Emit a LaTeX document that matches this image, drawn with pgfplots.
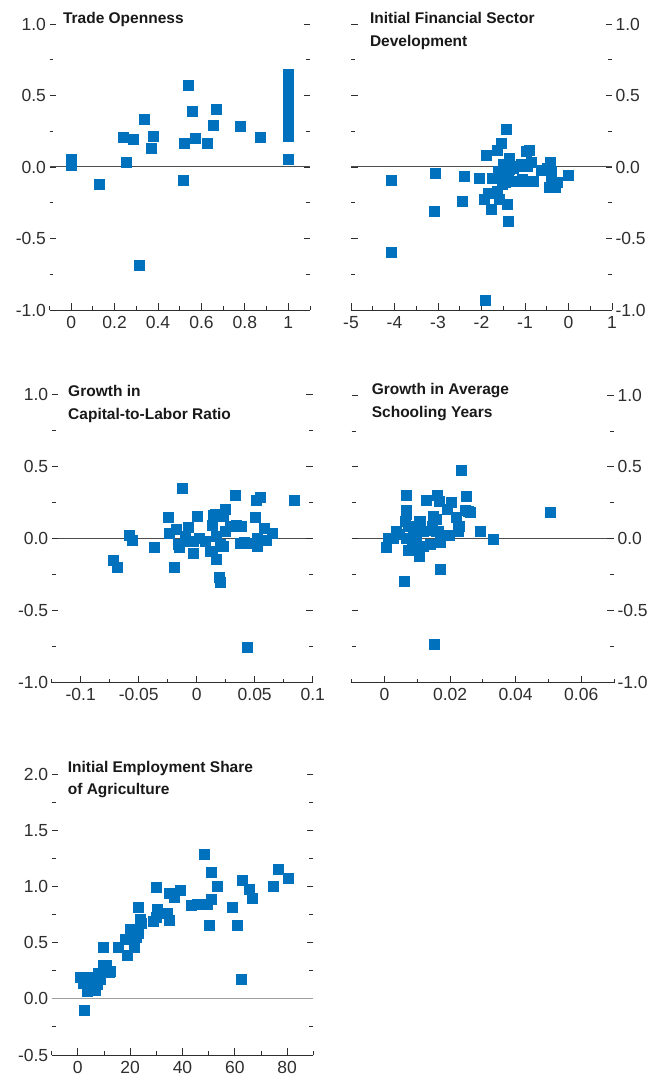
\documentclass[border=0pt]{standalone}
\usepackage{fontspec}
\setmainfont{Liberation Sans}
\usepackage{pgfplots}
\pgfplotsset{compat=1.18}

\definecolor{dotblue}{HTML}{0071BC}
\definecolor{inkgray}{HTML}{2E2E2E}

\pgfplotsset{
  panel/.style={
    scale only axis, anchor=south west, clip=false,
    axis x line=bottom, axis y line=box,
    separate axis lines,
    x axis line style={-, draw=inkgray, line width=0.9pt},
    y axis line style={draw=none},
    tick align=inside,
    scaled x ticks=false, scaled y ticks=false,
    major tick length=6.5pt, minor tick length=3.8pt,
    every tick/.style={draw=inkgray, line width=0.9pt},
    minor tick style={draw=inkgray, line width=0.9pt},
    tick label style={font=\fontsize{17.5}{20}\selectfont, text=inkgray},
    xticklabel style={yshift=-2.5pt},
    ytick pos=both,
    ytick={-1,-0.5,0,0.5,1},
    yticklabels={-1.0,-0.5,0.0,0.5,1.0},
    minor ytick={-0.75,-0.25,0.25,0.75},
    ymin=-1, ymax=1,
  },
  dots/.style={only marks, color=dotblue, mark=square*, mark size=5pt,
    mark options={solid, draw=dotblue, fill=dotblue, line width=0pt}},
}
\tikzset{ttl/.style={anchor=base west, font=\fontsize{15.5}{18}\selectfont\bfseries, text=black!90}}

\begin{document}
\begin{tikzpicture}
\useasboundingbox (0,0) rectangle (651pt,1079pt);

% Trade openness
\begin{axis}[panel, at={(49.5pt,769pt)}, width=260.5pt, height=286pt,
  xmin=-0.1, xmax=1.1,
  xtick={0,0.2,0.4,0.6,0.8,1}, xticklabels={0,0.2,0.4,0.6,0.8,1},
  minor xtick={-0.1,0.1,0.3,0.5,0.7,0.9,1.1},
  yticklabel pos=left]
\addplot[dots] coordinates {
(0,0.05)(0,0.01)(0.13,-0.12)(0.242,0.207)(0.285,0.19)(0.254,0.03)(0.337,0.33)
(0.368,0.128)(0.377,0.213)(0.314,-0.687)(0.52,0.167)(0.515,-0.096)(0.538,0.567)
(0.561,0.388)(0.572,0.202)(0.626,0.163)(0.655,0.29)(0.669,0.40)(0.782,0.283)
(0.87,0.207)(1,0.05)
(1,0.21)(1,0.25)(1,0.29)(1,0.33)(1,0.37)(1,0.41)(1,0.45)(1,0.49)(1,0.53)
(1,0.57)(1,0.61)(1,0.645)};
\addplot[inkgray, line width=1pt, opacity=0.85] coordinates {(-0.1,0)(1.1,0)};
\node[ttl] at ([xshift=10pt]rel axis cs:0,1) {Trade Openness};
\end{axis}

% Initial financial sector development
\begin{axis}[panel, at={(351pt,769pt)}, width=261pt, height=286pt,
  xmin=-5, xmax=1,
  xtick={-5,-4,-3,-2,-1,0,1}, xticklabels={-5,-4,-3,-2,-1,0,1},
  minor xtick={-4.5,-3.5,-2.5,-1.5,-0.5,0.5},
  yticklabel pos=right]
\addplot[dots] coordinates {
(-4.06,-0.093)(-4.08,-0.6)(-3.05,-0.047)(-3.07,-0.314)(-2.39,-0.07)(-2.43,-0.244)
(-2.05,-0.077)(-1.9,-0.935)(-1.89,0.077)(-1.43,0.263)(-1.55,0.163)(-1.64,0.112)
(-0.97,0.105)(-0.9,0.112)(-1.36,0.058)(-1.49,0.02)(-1.07,0.02)(-0.84,0.03)
(-0.42,0.03)(-0.94,0.0)(-1.26,-0.01)(-0.63,-0.023)(-0.38,-0.035)(-0.49,-0.01)
(-1.61,-0.035)(-1.38,-0.047)(-1.745,-0.077)(0.0,-0.063)(-0.38,-0.07)(-0.25,-0.105)
(-1.45,-0.105)(-1.15,-0.1)(-0.8,-0.1)(-0.95,-0.1)(-1.3,-0.1)(-0.44,-0.14)(-0.3,-0.14)
(-1.84,-0.186)(-1.64,-0.174)(-1.94,-0.228)(-1.58,-0.228)(-1.41,-0.26)(-1.76,-0.295)
(-1.39,-0.384)(-1.5,-0.06)(-1.2,0.0)(-1.35,-0.02)(-1.05,-0.09)(-1.52,-0.12)};
\addplot[inkgray, line width=1pt, opacity=0.85] coordinates {(-5,0)(1,0)};
\node[ttl] at ([xshift=15.5pt]rel axis cs:0,1) {Initial Financial Sector};
\node[ttl] at ([xshift=15.5pt,yshift=-23pt]rel axis cs:0,1) {Development};
\end{axis}

% Growth in capital-to-labor ratio
\begin{axis}[panel, at={(51.7pt,396.3pt)}, width=261pt, height=288.7pt,
  xmin=-0.125, xmax=0.1,
  xtick={-0.1,-0.05,0,0.05,0.1}, xticklabels={-0.1,-0.05,0,0.05,0.1},
  minor xtick={-0.125,-0.075,-0.025,0.025,0.075},
  yticklabel pos=left]
\addplot[dots] coordinates {
(-0.0714,-0.155)(-0.0685,-0.204)(-0.058,0.018)(-0.0556,-0.017)(-0.0364,-0.065)
(-0.0126,0.342)(-0.0246,0.143)(-0.0235,0.035)(-0.0175,0.058)(-0.019,-0.204)
(-0.016,-0.04)(-0.015,-0.06)(-0.0074,0.074)(-0.0097,0.011)(-0.0026,-0.023)
(-0.003,-0.104)(0.0011,0.15)(0.0023,0.0)(0.0075,-0.019)(0.0132,0.087)(0.016,0.166)
(0.0232,0.161)(0.0246,0.2)(0.0123,-0.088)(0.0174,0.011)(0.0204,-0.046)(0.0232,-0.058)
(0.0174,-0.146)(0.0195,-0.27)(0.0209,-0.307)(0.0246,0.046)(0.029,0.08)(0.0333,0.3)
(0.034,0.092)(0.0389,0.08)(0.041,-0.028)(0.0513,0.26)(0.0553,0.28)(0.0505,0.143)
(0.052,-0.058)(0.0582,0.069)(0.052,0.0)(0.0605,-0.017)(0.0657,0.035)(0.084,0.265)
(0.0438,-0.755)(0.0146,0.16)(0.038,-0.035)(0.0433,-0.035)(0.0318,0.08)(0.0132,-0.093)
(0.023,-0.058)(0.0218,0.15)(-0.0083,-0.02)};
\addplot[inkgray, line width=1pt, opacity=0.85] coordinates {(-0.125,0)(0.1,0)};
\node[ttl] at ([xshift=13pt,yshift=-2.7pt]rel axis cs:0,1) {Growth in};
\node[ttl] at ([xshift=13pt,yshift=-25.3pt]rel axis cs:0,1) {Capital-to-Labor Ratio};
\end{axis}

% Growth in average schooling years
\begin{axis}[panel, at={(351.7pt,396.3pt)}, width=262.3pt, height=287.7pt,
  xmin=-0.01, xmax=0.07,
  xtick={0,0.02,0.04,0.06}, xticklabels={0,0.02,0.04,0.06},
  minor xtick={-0.01,0.01,0.03,0.05,0.07},
  yticklabel pos=right]
\addplot[dots] coordinates {
(0.0234,0.474)(0.0068,0.30)(0.0129,0.27)(0.0163,0.30)(0.0167,0.258)(0.0203,0.254)
(0.0251,0.293)(0.0193,0.207)(0.0066,0.2)(0.0067,0.17)(0.0246,0.2)(0.0261,0.18)
(0.0148,0.158)(0.016,0.135)(0.0221,0.147)(0.0063,0.119)(0.0109,0.119)(0.0229,0.089)
(0.0073,0.084)(0.0145,0.084)(0.0094,0.061)(0.0038,0.05)(0.016,0.05)(0.0226,0.05)
(0.0294,0.05)(0.0119,0.05)(0.0197,0.02)(0.0012,0.0)(0.0027,0.0)(0.0068,0.0)
(0.0099,-0.005)(0.0334,-0.004)(0.0007,-0.062)(0.0084,-0.043)(0.0172,-0.027)
(0.0139,-0.036)(0.0119,-0.055)(0.0073,-0.078)(0.0106,-0.124)(0.0172,-0.21)
(0.0061,-0.298)(0.0152,-0.736)(0.0505,0.18)(0.0256,0.19)(0.0225,0.085)(0.0145,0.06)
(0.0165,0.05)(0.0108,0.12)(0.0108,0.05)(0.0045,0.03)(0.009,0.02)};
\addplot[inkgray, line width=1pt, opacity=0.85] coordinates {(-0.01,0)(0.07,0)};
\node[ttl] at ([xshift=16.6pt]rel axis cs:0,1) {Growth in Average};
\node[ttl] at ([xshift=16.6pt,yshift=-23pt]rel axis cs:0,1) {Schooling Years};
\end{axis}

% Initial employment share of agriculture
\begin{axis}[panel, at={(51.7pt,24pt)}, width=261.6pt, height=280.7pt,
  xmin=-10, xmax=90, ymin=-0.5, ymax=2,
  xtick={0,20,40,60,80}, xticklabels={0,20,40,60,80},
  minor xtick={-10,10,30,50,70,90},
  ytick={-0.5,0,0.5,1,1.5,2}, yticklabels={-0.5,0.0,0.5,1.0,1.5,2.0},
  minor ytick={-0.25,0.25,0.75,1.25,1.75},
  yticklabel pos=left]
\addplot[dots] coordinates {
(48.3,1.29)(76.6,1.148)(50.9,1.124)(80.5,1.068)(63.0,1.05)(74.7,1.0)(53.5,1.0)
(30.2,0.99)(65.5,0.976)(39.4,0.964)(34.9,0.935)(37.0,0.905)(66.8,0.893)(51.2,0.887)
(43.6,0.83)(45.7,0.837)(49.7,0.837)(59.2,0.813)(23.2,0.813)(30.6,0.792)(34.4,0.763)
(30.2,0.724)(29.0,0.688)(34.9,0.697)(23.9,0.703)(24.3,0.668)(50.3,0.652)(61.1,0.652)
(23.2,0.585)(22.6,0.546)(20.1,0.614)(18.4,0.525)(21.7,0.457)(15.4,0.457)(18.8,0.383)
(9.7,0.457)(9.7,0.30)(10.9,0.296)(12.2,0.237)(8.1,0.228)(1.0,0.19)(8.6,0.17)
(4.2,0.187)(3.6,0.134)(2.55,-0.104)(62.4,0.169)(1.3,0.19)(5.5,0.154)(8.3,0.169)
(10.8,0.28)(12.5,0.243)(8.0,0.228)(3.6,0.065)(6.7,0.071)(4.2,0.11)(7.4,0.125)
(2.0,0.14)(5.0,0.1)};
\addplot[gray!75, line width=1.2pt] coordinates {(-10,0)(90,0)};
\node[ttl] at ([xshift=12.6pt,yshift=2pt]rel axis cs:0,1) {Initial Employment Share};
\node[ttl] at ([xshift=12.6pt,yshift=-20.7pt]rel axis cs:0,1) {of Agriculture};
\end{axis}
\end{tikzpicture}
\end{document}
